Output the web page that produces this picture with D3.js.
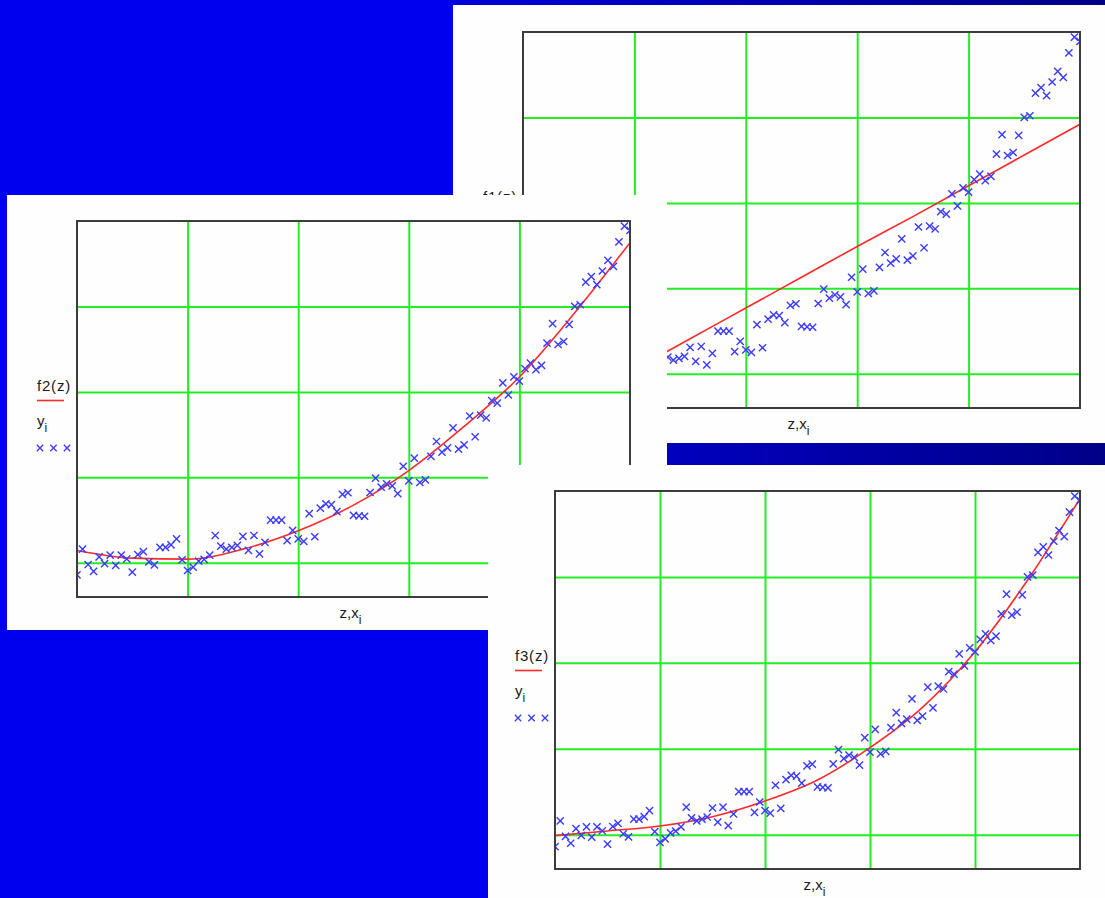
<!DOCTYPE html>
<html>
<head>
<meta charset="utf-8">
<script src="https://cdn.jsdelivr.net/npm/d3@7/dist/d3.min.js"></script>
<style>
  body { margin: 0; background: #0000ee; }
  svg { display: block; }
  text { font-family: Arial, "Liberation Sans", sans-serif; fill: #1a1a1a; }
</style>
</head>
<body>
<svg id="chart"></svg>
<script>
// --------------------------------------------------------------------------------------
// data read off the picture (same measured points in all three plots)
// --------------------------------------------------------------------------------------
var x_i = [0, 0.05, 0.1, 0.15, 0.2, 0.25, 0.3, 0.35, 0.4, 0.45,
           0.5, 0.55, 0.6, 0.65, 0.7, 0.75, 0.8, 0.85, 0.9, 0.95,
           1, 1.05, 1.1, 1.15, 1.2, 1.25, 1.3, 1.35, 1.4, 1.45,
           1.5, 1.55, 1.6, 1.65, 1.7, 1.75, 1.8, 1.85, 1.9, 1.95,
           2, 2.05, 2.1, 2.15, 2.2, 2.25, 2.3, 2.35, 2.4, 2.45,
           2.5, 2.55, 2.6, 2.65, 2.7, 2.75, 2.8, 2.85, 2.9, 2.95,
           3, 3.05, 3.1, 3.15, 3.2, 3.25, 3.3, 3.35, 3.4, 3.45,
           3.5, 3.55, 3.6, 3.65, 3.7, 3.75, 3.8, 3.85, 3.9, 3.95,
           4, 4.05, 4.1, 4.15, 4.2, 4.25, 4.3, 4.35, 4.4, 4.45,
           4.5, 4.55, 4.6, 4.65, 4.7, 4.75, 4.8, 4.85, 4.9, 4.95, 5];

var y_i = [0.86, 1.16, 0.98, 0.90, 1.07, 0.99, 1.09, 0.97, 1.09, 1.045,
           0.89, 1.095, 1.13, 1.01, 0.975, 1.18, 1.18, 1.21, 1.28, 1.035,
           0.91, 0.95, 1.02, 1.04, 1.09, 1.32, 1.195, 1.16, 1.18, 1.205,
           1.31, 1.145, 1.32, 1.105, 1.24, 1.50, 1.50, 1.50, 1.26, 1.38,
           1.28, 1.25, 1.575, 1.305, 1.64, 1.69, 1.68, 1.60, 1.80, 1.82,
           1.556, 1.55, 1.545, 1.823, 1.99, 1.885, 1.925, 1.90, 1.81, 2.13,
           1.96, 2.226, 1.94, 1.97, 2.245, 2.42, 2.296, 2.345, 2.58, 2.33,
           2.38, 2.718, 2.475, 2.728, 2.695, 2.897, 2.868, 3.105, 2.965, 3.175,
           3.127, 3.272, 3.336, 3.26, 3.31, 3.57, 3.80, 3.555, 3.59, 3.79,
           4.00, 4.02, 4.285, 4.35, 4.255, 4.415, 4.54, 4.47, 4.755, 4.94, 4.89];

// fitted curves, read at z = 0, 0.5, ... 5
var fit_z = [0, 0.5, 1, 1.5, 2, 2.5, 3, 3.5, 4, 4.5, 5];
var f1_vals = [0.33, 0.69, 1.05, 1.41, 1.77, 2.13, 2.49, 2.84, 3.20, 3.56, 3.92];
var f2_vals = [1.145, 1.055, 1.043, 1.16, 1.375, 1.675, 2.08, 2.596, 3.175, 3.926, 4.746];
var f3_vals = [0.988, 1.043, 1.101, 1.209, 1.391, 1.636, 2.012, 2.481, 3.128, 3.961, 4.911];

var grid_x = [1, 2, 3, 4];
var grid_y = [1, 2, 3, 4];
var x_domain = [0, 5];
var y_domain = [0.6, 5];

// --------------------------------------------------------------------------------------
var W = 1105, H = 898;
var svg = d3.select("#chart").attr("width", W).attr("height", H);

var defs = svg.append("defs");
var grad = defs.append("linearGradient").attr("id", "strip");
grad.append("stop").attr("offset", "0%").attr("stop-color", "#0000d8");
grad.append("stop").attr("offset", "100%").attr("stop-color", "#000088");

svg.append("rect").attr("width", W).attr("height", H).attr("fill", "#0000ee");

// strips that peek out around the first panel
svg.append("rect").attr("x", 453).attr("y", 0).attr("width", W - 453).attr("height", 5)
   .attr("fill", "url(#strip)");
svg.append("rect").attr("x", 453).attr("y", 443).attr("width", W - 453).attr("height", 22)
   .attr("fill", "url(#strip)");

var panels = [
  { name: "f1", fit: f1_vals, box: {x: 453, y: 5, w: 652, h: 438},
    plot: {left: 523, top: 32, right: 1080, bottom: 408} },
  { name: "f2", fit: f2_vals, box: {x: 7, y: 195, w: 660, h: 435},
    plot: {left: 77, top: 221, right: 630, bottom: 597} },
  { name: "f3", fit: f3_vals, box: {x: 488, y: 465, w: 617, h: 433},
    plot: {left: 555, top: 491, right: 1080, bottom: 869} }
];

var cross = "M-3.6,-3.6L3.6,3.6M-3.6,3.6L3.6,-3.6";

panels.forEach(function(p) {
  draw_panel(p);
});

// --------------------------------------------------------------------------------------
function draw_panel(p)
{
  var g = svg.append("g");

  g.append("rect")
   .attr("x", p.box.x).attr("y", p.box.y)
   .attr("width", p.box.w).attr("height", p.box.h)
   .attr("fill", "#fefefe");

  var w = p.plot.right - p.plot.left;
  var h = p.plot.bottom - p.plot.top;

  var x = d3.scaleLinear().domain(x_domain).range([0, w]);
  var y = d3.scaleLinear().domain(y_domain).range([h, 0]);

  var clip_id = "clip_" + p.name;
  defs.append("clipPath").attr("id", clip_id)
      .append("rect").attr("width", w).attr("height", h);

  var plot = g.append("g")
              .attr("transform", "translate(" + p.plot.left + "," + p.plot.top + ")");

  // grid
  var gx = plot.append("g")
               .attr("transform", "translate(0," + h + ")")
               .call(d3.axisBottom(x).tickValues(grid_x).tickSize(-h).tickFormat(""));
  var gy = plot.append("g")
               .call(d3.axisLeft(y).tickValues(grid_y).tickSize(-w).tickFormat(""));
  [gx, gy].forEach(function(a) {
    a.select(".domain").remove();
    a.selectAll("line").attr("stroke", "#22ee22").attr("stroke-width", 2);
  });

  var inner = plot.append("g").attr("clip-path", "url(#" + clip_id + ")");

  // fitted curve
  var line = d3.line()
               .x(function(d, i) { return x(fit_z[i]); })
               .y(function(d) { return y(d); })
               .curve(d3.curveMonotoneX);
  inner.append("path")
       .datum(p.fit)
       .attr("d", line)
       .attr("fill", "none")
       .attr("stroke", "#ff2a2a")
       .attr("stroke-width", 1.6);

  // measured points
  inner.selectAll(".pt")
       .data(y_i)
       .enter()
       .append("path")
       .attr("class", "pt")
       .attr("transform", function(d, i) { return "translate(" + x(x_i[i]) + "," + y(d) + ")"; })
       .attr("d", cross)
       .attr("stroke", "#3a3aff")
       .attr("stroke-width", 1.4)
       .attr("fill", "none");

  // frame
  plot.append("rect")
      .attr("width", w).attr("height", h)
      .attr("fill", "none")
      .attr("stroke", "#3c3c3c")
      .attr("stroke-width", 2);

  // legend on the left
  var lx = p.plot.left - 40;
  var ly = p.plot.top + 165;
  var leg = g.append("g").attr("transform", "translate(" + lx + "," + ly + ")");

  leg.append("text")
     .attr("x", 0).attr("y", 5)
     .style("font-size", "15px")
     .style("letter-spacing", "0.8px")
     .text(p.name + "(z)");

  leg.append("line")
     .attr("x1", 0).attr("x2", 27)
     .attr("y1", 14.5).attr("y2", 14.5)
     .attr("stroke", "#ff2a2a").attr("stroke-width", 1.6);

  var yl = leg.append("text").attr("x", 0).attr("y", 40).style("font-size", "15px");
  yl.append("tspan").text("y");
  yl.append("tspan").attr("dy", 6).style("font-size", "12px").text("i");

  leg.selectAll(".lg")
     .data([0, 1, 2])
     .enter()
     .append("path")
     .attr("transform", function(d) { return "translate(" + (3 + d * 13.5) + ",62)"; })
     .attr("d", "M-3.2,-3.2L3.2,3.2M-3.2,3.2L3.2,-3.2")
     .attr("stroke", "#3a3aff")
     .attr("stroke-width", 1.3);

  // x label
  var xl = g.append("text")
            .attr("x", p.plot.left + w / 2 - 14)
            .attr("y", p.plot.bottom + 21)
            .style("font-size", "15px");
  xl.append("tspan").text("z,x");
  xl.append("tspan").attr("dy", 6).style("font-size", "12px").text("i");
}
// --------------------------------------------------------------------------------------
</script>
</body>
</html>
